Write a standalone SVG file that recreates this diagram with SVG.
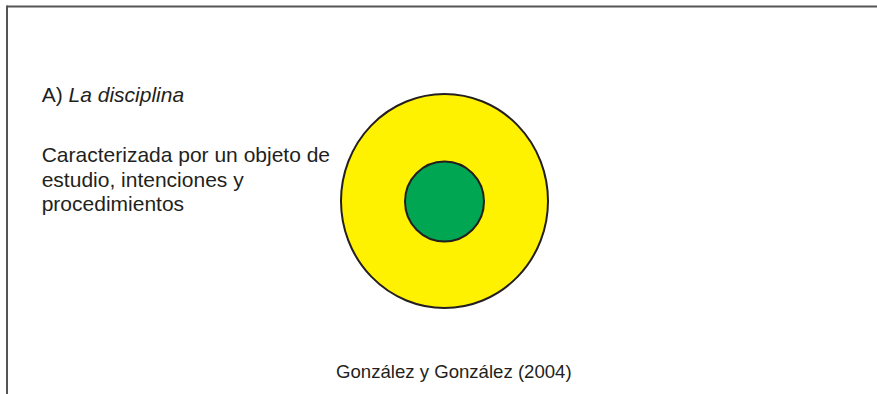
<svg xmlns="http://www.w3.org/2000/svg" width="877" height="394" viewBox="0 0 877 394">
<style>
.frame{stroke:#555;stroke-width:2;fill:none}
.t{font-family:"Liberation Sans",Arial,sans-serif;fill:#231f20}
.main{font-size:21px}
.src{font-size:18.6px}
.c{stroke:#231f20;stroke-width:2}
</style>
<rect width="877" height="394" fill="#fff"/>
<g id="frame">
<line class="frame" x1="7" y1="6.5" x2="877" y2="6.5"/>
<line class="frame" x1="7" y1="5.5" x2="7" y2="394"/>
</g>
<g id="outer-circle">
<ellipse class="c" cx="444.5" cy="201" rx="103.5" ry="107" fill="#fff200"/>
</g>
<g id="inner-circle">
<ellipse class="c" cx="444.5" cy="201.5" rx="39.5" ry="40" fill="#00a651"/>
</g>
<g id="label">
<text class="t main" x="41.7" y="101.7">A) <tspan font-style="italic">La disciplina</tspan></text>
<text class="t main" x="41.7" y="161.7">Caracterizada por un objeto de</text>
<text class="t main" x="41.7" y="186.5">estudio, intenciones y</text>
<text class="t main" x="41.7" y="211.3">procedimientos</text>
</g>
<g id="source">
<text class="t src" x="336" y="378">González y González (2004)</text>
</g>
<g id="connectors"></g>
</svg>
